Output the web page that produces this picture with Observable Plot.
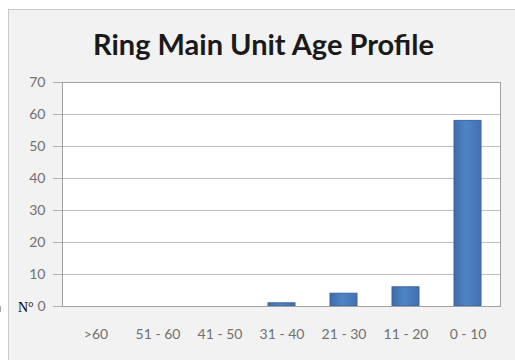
<!DOCTYPE html>
<html>
<head>
<meta charset="utf-8">
<script src="https://cdn.jsdelivr.net/npm/d3@7"></script>
<script src="https://cdn.jsdelivr.net/npm/@observablehq/plot@0.6"></script>
<style>
  html, body { margin: 0; padding: 0; background: #ffffff; overflow: hidden; }
  #wrap { position: relative; width: 515px; height: 360px; overflow: hidden; }
  #panel {
    position: absolute; left: 8px; top: 9px; right: -20px; bottom: -20px;
    background: #f2f2f2; border-left: 1px solid #c9c9c9; border-top: 1px solid #c9c9c9;
  }
  #chart { position: absolute; left: 0; top: 0; }
  #note {
    position: absolute; left: 18px; top: 300px;
    font-family: 'Liberation Serif', 'DejaVu Serif', serif; font-size: 14px; color: #000;
  }
</style>
</head>
<body>
<div id="wrap">
  <div id="panel"></div>
  <div id="chart"></div>
  <span id="note"></span>
</div>
<script>
// Ring main units counted per age band (years)
const ageBands = [">60", "51 - 60", "41 - 50", "31 - 40", "21 - 30", "11 - 20", "0 - 10"];
const unitCounts = [0, 0, 0, 1, 4, 6, 58];
const yTicks = [0, 10, 20, 30, 40, 50, 60, 70];
const chartTitle = "Ring Main Unit Age Profile";
const axisNote = "N°";

const rows = ageBands.map((band, i) => ({band, count: unitCounts[i]}));

// horizontal shading used to fill the columns
function barGradient() {
  const defs = d3.create("svg:defs");
  const lg = defs.append("linearGradient").attr("id", "colShade").attr("x1", "0").attr("x2", "1").attr("y1", "0").attr("y2", "0");
  lg.append("stop").attr("offset", "0%").attr("stop-color", "#3d6cab");
  lg.append("stop").attr("offset", "45%").attr("stop-color", "#4f85c6");
  lg.append("stop").attr("offset", "100%").attr("stop-color", "#426fae");
  return defs.node();
}

// small tick marks on the category axis, drawn at the band boundaries
function bandBoundaryTicks(index, scales, values, dimensions) {
  const x = scales.x;
  const step = x(ageBands[1]) - x(ageBands[0]);
  const gap = (step - x.bandwidth) / 2;
  const y0 = dimensions.height - dimensions.marginBottom;
  const g = d3.create("svg:g").attr("stroke", "#a6a6a6").attr("stroke-width", 1);
  const edges = ageBands.map(b => x(b) - gap).concat([x(ageBands[ageBands.length - 1]) + x.bandwidth + gap]);
  for (const e of edges) {
    const px = Math.round(e) + 0.5;
    g.append("line").attr("x1", px).attr("x2", px).attr("y1", y0).attr("y2", y0 + 6);
  }
  return g.node();
}

const chart = Plot.plot({
  width: 515,
  height: 360,
  marginLeft: 62,
  marginRight: 15,
  marginTop: 82,
  marginBottom: 54,
  style: {background: "transparent", fontFamily: "Lato, 'Open Sans', sans-serif", color: "#595959"},
  x: {domain: ageBands, paddingInner: 0.57, paddingOuter: 0.285, align: 0.5, label: null, axis: null},
  y: {domain: [0, 70], label: null, axis: null},
  marks: [
    barGradient,
    Plot.frame({fill: "#ffffff", stroke: "none"}),
    Plot.gridY(yTicks, {stroke: "#bdbdbd", strokeOpacity: 1}),
    Plot.barY(rows, {x: "band", y: "count", fill: "url(#colShade)", stroke: "#3b679d", strokeWidth: 1}),
    Plot.ruleY([0], {stroke: "#a6a6a6"}),
    Plot.frame({stroke: "#a0a0a0", fill: "none"}),
    Plot.axisY(yTicks, {tickSize: 9, tickPadding: 8, stroke: "#b0b0b0", fontSize: 14, fill: "#707070", label: null}),
    Plot.axisX({tickSize: 0, tickPadding: 23, fontSize: 14, fill: "#707070", label: null}),
    bandBoundaryTicks,
    Plot.text([chartTitle], {
      frameAnchor: "top", dx: -18, dy: -48, text: d => d,
      fontSize: 29, fontWeight: "bold", fill: "#1a1a1a", fontFamily: "Lato, 'Open Sans', sans-serif"
    })
  ]
});

document.getElementById("chart").appendChild(chart);
document.getElementById("note").textContent = axisNote;
</script>
</body>
</html>
